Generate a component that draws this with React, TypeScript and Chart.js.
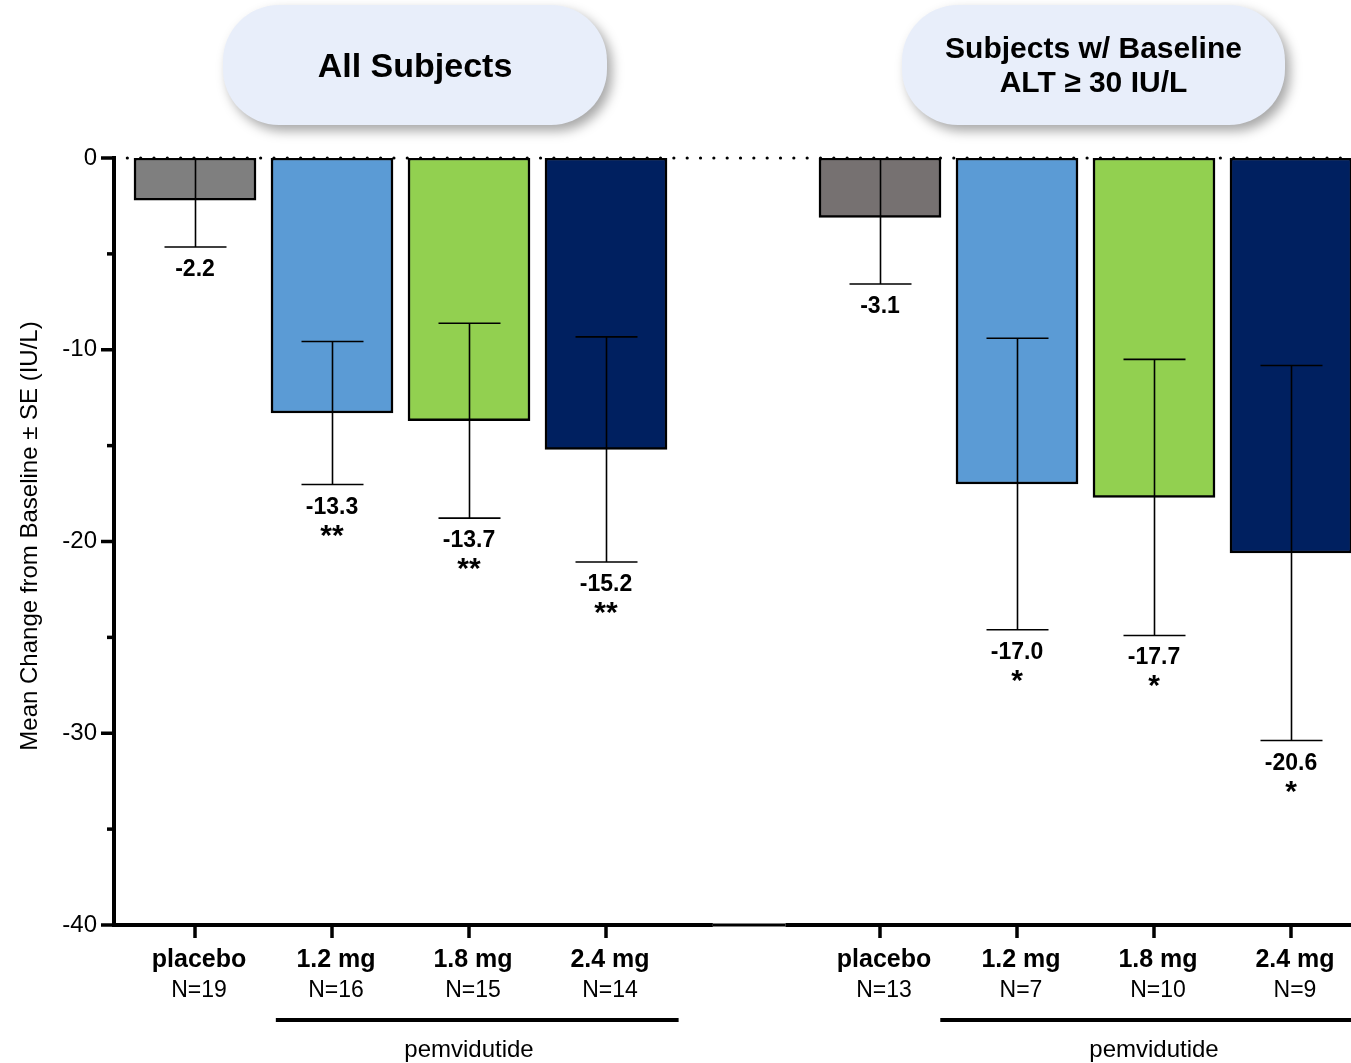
import React, { useEffect, useRef } from 'react';
import { Chart, registerables } from 'chart.js';

Chart.register(...registerables);

// ---- data ----
const categories = ['placebo', '1.2 mg', '1.8 mg', '2.4 mg', 'placebo', '1.2 mg', '1.8 mg', '2.4 mg'];
const sampleSizes = ['N=19', 'N=16', 'N=15', 'N=14', 'N=13', 'N=7', 'N=10', 'N=9'];
const slotIndex = [0, 1, 2, 3, 5, 6, 7, 8];
const meanChange = [-2.2, -13.3, -13.7, -15.2, -3.1, -17.0, -17.7, -20.6];
const standardError = [2.44, 3.73, 5.08, 5.87, 3.47, 7.6, 7.2, 9.78];
const significance = ['', '**', '**', '**', '', '*', '*', '*'];
const barColors = ['#7F7F7F', '#5B9BD5', '#92D050', '#002060', '#767171', '#5B9BD5', '#92D050', '#002060'];
const groupTitles = [['All Subjects'], ['Subjects w/ Baseline', 'ALT ≥ 30 IU/L']];
const bracketLabel = 'pemvidutide';
const bracketSlots = [[1, 3], [6, 8]];
const yAxisTitle = 'Mean Change from Baseline ± SE (IU/L)';
const yMin = -40;
const yMax = 0;

const FONT = '"Liberation Sans", Arial, Helvetica, sans-serif';

const overlayPlugin = {
  id: 'overlay',
  afterDatasetsDraw(chart: any) {
    const { ctx, chartArea: ca, scales } = chart;
    const x = scales.x;
    const y = scales.y;
    const step = x.getPixelForValue(1) - x.getPixelForValue(0);

    // error bars (clipped to plot area)
    ctx.save();
    ctx.beginPath();
    ctx.rect(ca.left, ca.top, ca.right - ca.left, ca.bottom - ca.top);
    ctx.clip();
    ctx.strokeStyle = '#000';
    ctx.lineWidth = 1.6;
    slotIndex.forEach((s, i) => {
      const px = Math.round(x.getPixelForValue(s)) + 0.5;
      const lo = y.getPixelForValue(meanChange[i] - standardError[i]);
      const hi = y.getPixelForValue(meanChange[i] + standardError[i]);
      ctx.beginPath();
      ctx.moveTo(px, hi);
      ctx.lineTo(px, lo);
      ctx.moveTo(px - 31, lo);
      ctx.lineTo(px + 31, lo);
      ctx.moveTo(px - 31, hi);
      ctx.lineTo(px + 31, hi);
      ctx.stroke();
    });
    ctx.restore();

    ctx.save();
    // value labels and significance
    ctx.fillStyle = '#000';
    ctx.textAlign = 'center';
    ctx.textBaseline = 'alphabetic';
    slotIndex.forEach((s, i) => {
      const px = x.getPixelForValue(s);
      const lo = y.getPixelForValue(meanChange[i] - standardError[i]);
      ctx.font = `bold 23px ${FONT}`;
      ctx.fillText(meanChange[i].toFixed(1), px, lo + 29);
      if (significance[i]) {
        ctx.font = `bold 30px ${FONT}`;
        ctx.fillText(significance[i], px, lo + 60);
      }
    });

    // dotted zero line
    const y0 = y.getPixelForValue(0);
    ctx.save();
    ctx.strokeStyle = '#000';
    ctx.lineWidth = 3.2;
    ctx.lineCap = 'round';
    ctx.setLineDash([0, 13.33]);
    ctx.beginPath();
    ctx.moveTo(ca.left - 1, y0);
    ctx.lineTo(ca.right, y0);
    ctx.stroke();
    ctx.restore();

    // axes
    const axisX = ca.left - 1;
    const yBottom = y.getPixelForValue(yMin);
    ctx.strokeStyle = '#000';
    ctx.lineCap = 'butt';
    ctx.lineWidth = 4;
    ctx.beginPath();
    ctx.moveTo(axisX, y0 - 2);
    ctx.lineTo(axisX, yBottom + 2);
    ctx.stroke();
    // x axis (with a thinner break between groups)
    const breakL = x.getPixelForValue(3) + 0.78 * step;
    const breakR = x.getPixelForValue(5) - 0.69 * step;
    ctx.beginPath();
    ctx.moveTo(axisX - 2, yBottom);
    ctx.lineTo(breakL, yBottom);
    ctx.moveTo(breakR, yBottom);
    ctx.lineTo(ca.right, yBottom);
    ctx.stroke();
    ctx.lineWidth = 3;
    ctx.beginPath();
    ctx.moveTo(breakL, yBottom);
    ctx.lineTo(breakR, yBottom);
    ctx.stroke();

    // y ticks
    ctx.lineWidth = 3.5;
    for (let v = yMin; v <= yMax; v += 5) {
      const py = y.getPixelForValue(v);
      const major = v % 10 === 0;
      ctx.beginPath();
      ctx.moveTo(axisX - (major ? 13 : 7), py);
      ctx.lineTo(axisX, py);
      ctx.stroke();
    }
    // x ticks
    slotIndex.forEach((s) => {
      const px = x.getPixelForValue(s);
      ctx.beginPath();
      ctx.moveTo(px, yBottom);
      ctx.lineTo(px, yBottom + 13);
      ctx.stroke();
    });

    // category labels
    ctx.textAlign = 'center';
    slotIndex.forEach((s, i) => {
      const px = x.getPixelForValue(s) + 4;
      ctx.font = `bold 25px ${FONT}`;
      ctx.fillText(categories[i], px, yBottom + 42);
      ctx.font = `23px ${FONT}`;
      ctx.fillText(sampleSizes[i], px, yBottom + 72);
    });

    // brackets
    const bracketExtents = [[-0.41, 0.53], [-0.56, 0.6]];
    bracketSlots.forEach(([a, b], k) => {
      const l = x.getPixelForValue(a) + bracketExtents[k][0] * step;
      const r = x.getPixelForValue(b) + bracketExtents[k][1] * step;
      ctx.lineWidth = 4;
      ctx.beginPath();
      ctx.moveTo(l, yBottom + 95);
      ctx.lineTo(r, yBottom + 95);
      ctx.stroke();
      ctx.font = `24px ${FONT}`;
      ctx.fillText(bracketLabel, x.getPixelForValue((a + b) / 2), yBottom + 132);
    });

    // y axis title
    ctx.save();
    ctx.translate(30, 536);
    ctx.rotate(-Math.PI / 2);
    ctx.textAlign = 'center';
    ctx.textBaseline = 'middle';
    ctx.font = `24px ${FONT}`;
    ctx.fillText(yAxisTitle, 0, 0);
    ctx.restore();

    ctx.restore();
  },
};

export default function App() {
  const canvasRef = useRef<HTMLCanvasElement | null>(null);

  useEffect(() => {
    if (!canvasRef.current) return;
    const chart = new Chart(canvasRef.current, {
      type: 'bar',
      data: {
        datasets: [
          {
            data: slotIndex.map((s, i) => ({ x: s, y: meanChange[i] })),
            backgroundColor: barColors,
            borderColor: '#000',
            borderWidth: 2.5,
            borderSkipped: false,
            barThickness: 122,
          },
        ],
      },
      options: {
        responsive: false,
        animation: false,
        devicePixelRatio: 1,
        layout: { padding: { left: 0, right: 0, top: 158, bottom: 138 } },
        plugins: { legend: { display: false }, tooltip: { enabled: false } },
        scales: {
          x: {
            type: 'linear',
            display: false,
            offset: false,
            grid: { offset: false },
            min: -0.584,
            max: 8.438,
          },
          y: {
            min: yMin,
            max: yMax,
            grid: { display: false, drawTicks: false },
            border: { display: false },
            ticks: {
              stepSize: 5,
              padding: 18,
              color: '#000',
              font: { family: FONT, size: 24 },
              callback: (v: any) => (Number(v) % 10 === 0 ? String(v) : ''),
            },
            afterFit: (scale: any) => {
              scale.width = 115;
            },
          },
        },
      },
      plugins: [overlayPlugin],
    } as any);
    return () => chart.destroy();
  }, []);

  const boxBase: React.CSSProperties = {
    position: 'absolute',
    top: 5,
    height: 120,
    borderRadius: 56,
    background: '#E8EEFA',
    boxShadow: '5px 6px 12px rgba(0,0,0,0.35)',
    display: 'flex',
    flexDirection: 'column',
    alignItems: 'center',
    justifyContent: 'center',
    fontFamily: FONT,
    fontWeight: 'bold',
    color: '#000',
    textAlign: 'center',
  };

  return (
    <div style={{ position: 'fixed', left: 0, top: 0, width: 1351, height: 1063, background: '#fff', overflow: 'hidden' }}>
      <canvas ref={canvasRef} width={1351} height={1063} style={{ display: 'block', position: 'absolute', left: 0, top: 0 }} />
      <div style={{ ...boxBase, left: 223, width: 384, fontSize: 34, lineHeight: '38px' }}>
        {groupTitles[0].map((t) => (
          <div key={t}>{t}</div>
        ))}
      </div>
      <div style={{ ...boxBase, left: 902, width: 383, fontSize: 30, lineHeight: '34px' }}>
        {groupTitles[1].map((t) => (
          <div key={t}>{t}</div>
        ))}
      </div>
    </div>
  );
}
